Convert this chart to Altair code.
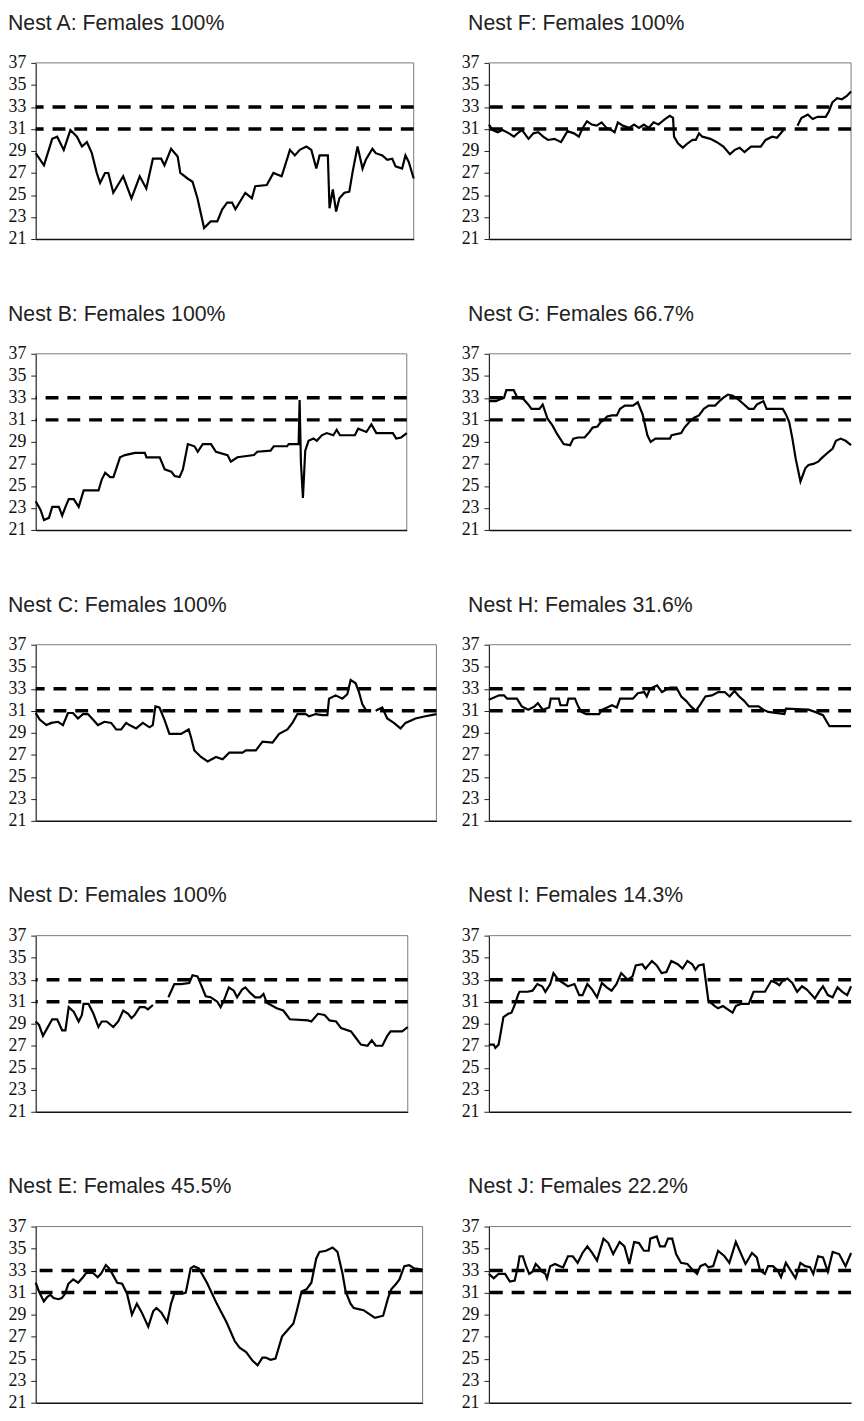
import altair as alt
import pandas as pd

Y_TICKS = [21, 23, 25, 27, 29, 31, 33, 35, 37]
THRESHOLDS = [31, 33]
GAP = (None, None)  # marks a break in the logger trace

# Nest readings: (relative time, temperature °C)
nest_a = [(0,28.8),(25,27.7),(50,30.1),(65,30.3),(85,29.1),(105,30.9),(125,30.3),(140,29.4),(155,29.8),(170,28.8),
          (185,27.0),(195,26.1),(210,27.0),(220,27.0),(235,25.2),(265,26.7),(290,24.7),(315,26.7),(335,25.6),(355,28.3),
          (380,28.3),(390,27.7),(410,29.2),(430,28.5),(438,27.0),(460,26.5),(475,26.2),(490,24.7),(510,22.0),(530,22.6),
          (550,22.6),(565,23.7),(580,24.3),(595,24.3),(605,23.7),(625,24.7),(635,25.2),(655,24.7),(665,25.8),(700,25.9),
          (720,27.0),(745,26.7),(765,28.6),(770,29.1),(785,28.6),(800,29.1),(820,29.4),(835,29.1),(850,27.4),(860,28.6),
          (885,28.6),(890,23.8),(900,25.5),(910,23.5),(920,24.7),(935,25.2),(950,25.3),(960,27.1),(975,29.4),(990,27.4),
          (1000,28.2),(1020,29.2),(1030,28.8),(1050,28.6),(1065,28.2),(1080,28.3),(1090,27.6),(1110,27.4),(1120,28.6),
          (1130,28.0),(1145,26.5)]

nest_b = [(0,23.6),(15,22.8),(25,21.9),(40,22.1),(50,23.1),(70,23.1),(80,22.3),(90,23.1),(100,23.8),(115,23.8),
          (130,23.1),(145,24.6),(190,24.6),(200,25.6),(210,26.2),(225,25.8),(235,25.8),(255,27.6),(270,27.8),(300,28.0),
          (330,28.0),(335,27.6),(375,27.6),(390,26.5),(410,26.3),(420,25.9),(435,25.8),(445,26.5),(460,28.8),(480,28.6),
          (490,28.1),(505,28.8),(530,28.8),(545,28.1),(580,27.8),(590,27.2),(610,27.6),(660,27.8),(670,28.1),(710,28.2),
          (720,28.6),(760,28.6),(765,28.8),(795,28.8),(798,32.8),(802,27.1),(808,23.9),(815,28.2),(825,29.1),(840,29.3),
          (850,29.1),(865,29.6),(880,29.8),(900,29.6),(910,30.1),(920,29.6),(965,29.6),(975,30.2),(1000,29.9),(1015,30.6),
          (1030,29.8),(1080,29.8),(1090,29.3),(1105,29.4),(1122,29.8)]

nest_c = [(0,30.8),(12,30.2),(32,29.7),(47,29.9),(67,30.0),(82,29.7),(97,30.8),(112,30.8),(127,30.3),(142,30.7),
          (157,30.7),(172,30.2),(187,29.7),(207,30.0),(227,29.9),(242,29.3),(257,29.3),(272,29.9),(282,29.7),(302,29.4),
          (322,29.9),(342,29.5),(352,29.7),(360,31.4),(372,31.3),(387,30.2),(402,28.9),(437,28.9),(460,29.3),(467,28.6),
          (477,27.4),(497,26.8),(517,26.4),(542,26.8),(562,26.6),(582,27.2),(622,27.2),(632,27.4),(662,27.4),(682,28.2),
          (712,28.1),(732,28.9),(757,29.3),(772,29.9),(787,30.7),(812,30.7),(822,30.5),(842,30.7),(862,30.6),(877,30.6),
          (882,32.1),(902,32.4),(922,32.1),(937,32.5),(947,33.8),(962,33.5),(972,32.7),(982,31.6),(992,31.1),GAP,
          (1022,31.0),(1042,31.3),(1057,30.3),(1077,29.9),(1097,29.4),(1112,29.9),(1142,30.3),(1172,30.5),(1205,30.7)]

nest_d = [(0,29.2),(10,28.9),(22,27.9),(35,28.6),(50,29.4),(65,29.4),(80,28.4),(90,28.4),(100,30.5),(115,30.1),
          (130,29.2),(140,29.8),(145,30.8),(160,30.8),(175,29.9),(190,28.7),(200,29.2),(215,29.2),(235,28.7),(250,29.2),
          (265,30.2),(280,29.9),(290,29.5),(300,29.8),(315,30.5),(330,30.5),(340,30.3),(355,30.7),GAP,(402,31.4),(420,32.6),
          (440,32.6),(465,32.7),(475,33.4),(490,33.3),(500,32.6),(515,31.5),(530,31.4),(550,31.0),(560,30.5),(570,31.1),
          (585,32.3),(600,32.0),(610,31.4),(625,32.1),(635,32.3),(650,31.8),(665,31.4),(680,31.4),(690,31.7),(700,30.9),
          (730,30.4),(750,30.2),(770,29.4),(825,29.3),(835,29.2),(855,29.9),(875,29.8),(890,29.3),(910,29.2),(925,28.6),
          (955,28.3),(970,27.7),(985,27.1),(1005,27.0),(1018,27.5),(1030,27.0),(1050,27.0),(1065,27.9),(1075,28.3),
          (1110,28.3),(1127,28.7)]

nest_e = [(0,31.9),(10,31.1),(25,30.2),(35,30.6),(45,30.8),(55,30.5),(70,30.4),(80,30.5),(90,30.9),(100,31.8),
          (115,32.2),(130,31.9),(145,32.4),(155,32.8),(175,32.8),(190,32.4),(200,32.7),(215,33.5),(225,33.2),(235,32.7),
          (250,31.9),(265,31.8),(280,30.9),(295,29.0),(310,30.0),(325,29.2),(345,27.9),(360,29.3),(370,29.6),(385,29.2),
          (403,28.3),(415,30.0),(425,30.9),(450,30.9),(460,31.0),(475,33.2),(485,33.4),(500,33.2),(525,31.9),(555,30.0),
          (585,28.3),(610,26.6),(625,26.0),(645,25.6),(665,24.8),(680,24.4),(695,25.1),(705,25.1),(720,24.9),(735,25.0),
          (755,27.0),(775,27.7),(790,28.2),(800,29.3),(815,31.1),(830,31.3),(845,31.9),(860,34.1),(870,34.7),(890,34.8),
          (910,35.1),(925,34.7),(940,32.8),(950,31.1),(965,30.0),(975,29.6),(990,29.5),(1005,29.4),(1025,29.0),(1040,28.7),
          (1065,28.9),(1080,30.5),(1090,31.3),(1105,31.8),(1115,32.2),(1130,33.4),(1145,33.5),(1160,33.2),(1186,33.1)]

nest_f = [(0,31.4),(12,30.9),(27,30.7),(42,30.9),(62,30.6),(77,30.3),(92,30.7),(102,30.9),(122,30.1),(137,30.6),
          (152,30.7),(167,30.3),(182,30.0),(202,30.1),(222,29.8),(232,30.3),(242,30.8),(262,30.6),(277,30.3),(287,31.0),
          (302,31.7),(317,31.4),(332,31.3),(347,31.6),(362,31.1),(377,30.9),(387,30.7),(397,31.6),(412,31.3),(432,31.1),
          (447,31.4),(462,31.1),(477,31.4),(492,31.1),(507,31.6),(522,31.4),(542,31.9),(557,32.2),(567,32.0),(570,30.3),
          (582,29.7),(597,29.3),(612,29.7),(627,30.0),(637,30.0),(647,30.6),(657,30.3),(682,30.1),(702,29.8),(722,29.4),
          (742,28.7),(757,29.1),(772,29.3),(787,28.9),(807,29.4),(822,29.4),(837,29.4),(852,30.0),(872,30.3),(887,30.2),
          (907,30.9),GAP,(950,31.3),(962,32.0),(982,32.3),(997,31.9),(1012,32.1),(1037,32.1),(1047,32.6),(1057,33.4),
          (1072,33.8),(1087,33.7),(1102,34.0),(1115,34.4)]

nest_g = [(0,32.7),(22,32.7),(37,32.9),(47,33.0),(54,33.7),(77,33.7),(87,33.1),(107,32.9),(122,32.4),(132,32.0),
          (157,32.0),(167,32.4),(174,31.8),(182,31.1),(197,30.5),(212,29.7),(232,28.8),(252,28.7),(262,29.3),(277,29.4),
          (297,29.4),(312,29.9),(322,30.3),(337,30.4),(347,30.8),(357,31.0),(367,31.3),(382,31.4),(397,31.4),(407,32.0),
          (422,32.3),(447,32.3),(462,32.6),(477,31.5),(492,29.6),(502,29.0),(517,29.3),(562,29.3),(567,29.6),(597,29.8),
          (607,30.3),(622,30.8),(637,31.2),(652,31.4),(667,32.0),(682,32.3),(702,32.3),(712,32.6),(727,33.0),(742,33.3),
          (757,33.2),(772,32.9),(792,32.4),(807,32.0),(822,32.0),(832,32.4),(852,32.7),(862,32.0),(912,32.0),(922,31.5),
          (932,30.8),(942,29.3),(952,27.5),(967,25.4),(982,26.6),(992,26.9),(1007,27.0),(1022,27.2),(1032,27.5),(1047,27.9),
          (1067,28.4),(1077,29.1),(1092,29.3),(1107,29.1),(1124,28.7)]

nest_h = [(0,32.0),(32,32.4),(47,32.4),(57,32.1),(87,32.1),(102,31.4),(122,31.1),(142,31.4),(152,31.7),(167,31.1),
          (187,31.3),(192,32.1),(217,32.1),(222,31.5),(242,31.5),(247,32.1),(267,32.1),(277,31.4),(287,30.9),(302,30.7),
          (342,30.7),(352,31.1),(367,31.3),(382,31.5),(397,31.3),(407,32.1),(447,32.1),(462,32.6),(482,32.7),(490,32.3),
          (500,33.0),(522,33.3),(537,32.7),(562,33.1),(582,33.1),(597,32.3),(612,31.9),(627,31.4),(642,31.0),(657,31.6),
          (672,32.3),(692,32.4),(712,32.7),(732,32.7),(747,32.3),(762,32.8),(777,32.3),(792,31.9),(807,31.4),(837,31.4),
          (852,31.1),(867,30.9),(917,30.7),(922,31.2),(992,31.1),(1012,30.9),(1037,30.6),(1047,30.1),(1057,29.6),(1124,29.6)]

nest_i = [(0,27.1),(15,27.1),(20,26.8),(30,27.1),(35,27.9),(45,29.6),(60,29.9),(70,30.0),(80,30.7),(90,31.6),
          (95,31.9),(120,31.9),(135,32.0),(150,32.6),(165,32.4),(175,31.9),(190,32.6),(200,33.6),(215,33.0),(230,32.7),
          (245,32.4),(265,32.6),(280,31.6),(290,31.6),(305,32.6),(320,32.1),(335,31.4),(350,32.7),(365,32.3),(380,32.0),
          (395,32.6),(410,33.6),(430,33.0),(445,33.3),(455,34.3),(475,34.4),(485,34.0),(505,34.7),(520,34.3),(535,33.6),
          (550,33.7),(565,34.7),(585,34.4),(600,34.0),(615,34.7),(630,34.4),(640,33.9),(650,34.3),(665,34.4),(670,33.3),
          (680,31.1),(700,30.6),(710,30.4),(725,30.6),(740,30.3),(755,30.0),(765,30.6),(780,30.8),(805,30.8),(820,31.9),
          (855,31.9),(875,32.9),(890,32.7),(900,32.5),(910,32.9),(925,33.1),(940,32.7),(955,31.9),(970,32.4),(985,32.1),
          (1010,31.3),(1025,32.0),(1035,32.4),(1050,31.6),(1065,31.4),(1080,32.3),(1095,31.9),(1110,31.6),(1122,32.4)]

nest_j = [(0,32.7),(15,32.3),(30,32.7),(50,32.7),(65,32.0),(80,32.1),(90,33.4),(95,34.3),(105,34.3),(115,33.4),
          (125,32.7),(135,32.9),(145,33.6),(155,33.3),(165,32.9),(175,32.7),(180,32.3),(190,33.4),(205,33.6),(220,33.4),
          (230,33.3),(245,34.3),(260,34.3),(275,33.7),(290,34.6),(305,35.2),(320,34.6),(335,33.9),(355,35.9),(370,35.5),
          (385,34.5),(405,35.6),(420,35.2),(435,33.6),(450,35.6),(465,35.5),(480,34.8),(495,34.8),(500,35.9),(520,36.1),
          (530,35.2),(545,35.2),(555,35.9),(568,35.9),(580,34.5),(595,33.7),(615,33.6),(630,33.1),(645,32.7),(655,33.4),
          (670,33.6),(680,33.3),(695,33.4),(710,34.8),(730,34.3),(745,33.7),(765,35.6),(780,34.6),(795,33.6),(815,34.6),
          (830,34.2),(840,33.0),(855,32.7),(865,33.4),(880,33.4),(895,33.0),(905,32.4),(920,33.7),(935,33.0),(950,32.3),
          (965,33.7),(980,33.4),(995,33.3),(1005,32.7),(1020,34.3),(1035,34.2),(1050,32.9),(1065,34.7),(1085,34.5),
          (1105,33.4),(1122,34.6)]

titles = ["Nest A: Females 100%", "Nest F: Females 100%",
          "Nest B: Females 100%", "Nest G: Females 66.7%",
          "Nest C: Females 100%", "Nest H: Females 31.6%",
          "Nest D: Females 100%", "Nest I: Females 14.3%",
          "Nest E: Females 45.5%", "Nest J: Females 22.2%"]
series = [nest_a, nest_f, nest_b, nest_g, nest_c, nest_h, nest_d, nest_i, nest_e, nest_j]
widths = [382, 366, 375, 366, 405, 366, 376, 366, 391, 366]
right_open = [False, False, False, True, False, True, False, True, False, True]

PLOT_H = 178
FRAME = "#7a7a7a"


def to_frame(readings):
    rows, seg = [], 0
    for t, v in readings:
        if t is None:
            seg += 1
            continue
        rows.append({"t": t, "temp": v, "seg": seg})
    return pd.DataFrame(rows)


def panel(title, readings, width, open_right, title_dx):
    df = to_frame(readings)
    t_max = float(df["t"].max())
    xs = alt.Scale(domain=[0, t_max], nice=False, zero=False)
    ys = alt.Scale(domain=[21, 37], nice=False, zero=False)
    xax = alt.Axis(title=None, labels=False, ticks=False, grid=False,
                   domainColor="#111111", domainWidth=1.5)
    yax = alt.Axis(title=None, values=Y_TICKS, grid=False, domainColor="#222222",
                   domainWidth=1.2, tickColor="#222222", tickSize=5, labelPadding=5,
                   labelFont="Liberation Serif", labelFontSize=18, labelColor="#111111",
                   labelOverlap=False)
    top = alt.Chart(pd.DataFrame({"v": [37]})).mark_rule(color=FRAME, strokeWidth=1).encode(
        y=alt.Y("v:Q", scale=ys, axis=yax))
    rules = alt.Chart(pd.DataFrame({"v": THRESHOLDS})).mark_rule(
        color="black", strokeWidth=3.5, strokeDash=[13, 9]).encode(
        y=alt.Y("v:Q", scale=ys, axis=yax))
    line = alt.Chart(df).mark_line(color="black", strokeWidth=2.2).encode(
        x=alt.X("t:Q", scale=xs, axis=xax),
        y=alt.Y("temp:Q", scale=ys, axis=yax),
        detail="seg:N")
    layers = [top, rules, line]
    if not open_right:
        right = alt.Chart(pd.DataFrame({"t": [t_max]})).mark_rule(color=FRAME, strokeWidth=1).encode(
            x=alt.X("t:Q", scale=xs, axis=xax))
        layers.insert(1, right)
    return alt.layer(*layers).properties(
        width=width, height=PLOT_H,
        title=alt.TitleParams(title, anchor="start", frame="bounds", offset=20, fontSize=21.5,
                              font="Liberation Sans", fontWeight="normal", color="#222222",
                              dx=title_dx))


panels = [panel(t, s, w, o, 7 if i % 2 else 0)
          for i, (t, s, w, o) in enumerate(zip(titles, series, widths, right_open))]

chart = alt.concat(*panels, columns=2, align="each",
                   spacing={"row": 56, "column": 20}).properties(
    padding={"left": 0, "top": -3, "right": 0, "bottom": 0}
).configure_view(strokeOpacity=0)

chart.save("out.html", embed_options={"renderer": "svg", "actions": False})
